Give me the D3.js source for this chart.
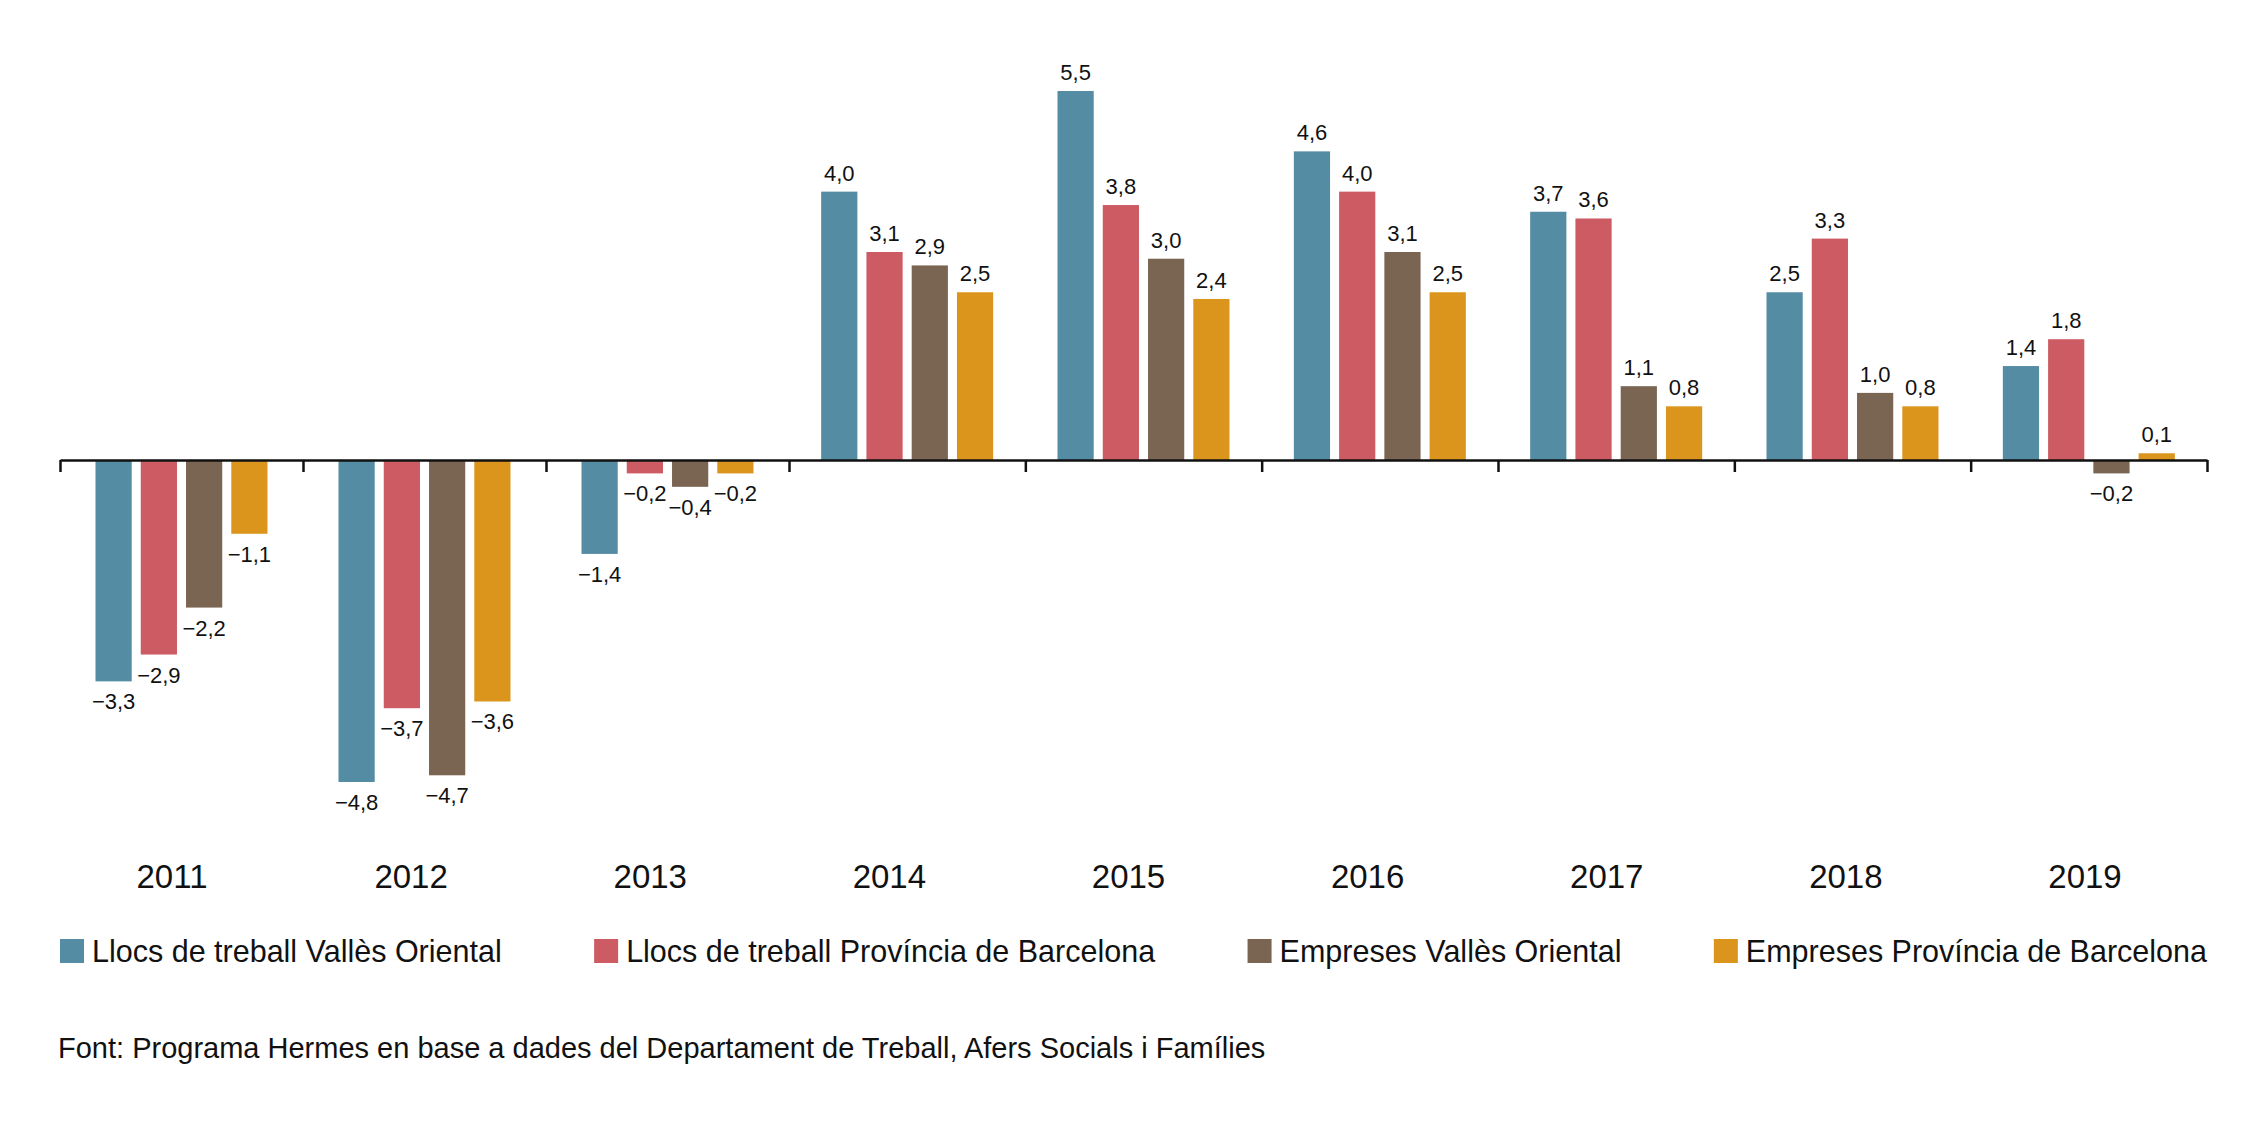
<!DOCTYPE html>
<html>
<head>
<meta charset="utf-8">
<script src="https://cdn.jsdelivr.net/npm/d3@7"></script>
<style>
  html, body { margin: 0; padding: 0; background: #fff; }
  svg { display: block; font-family: "Liberation Sans", Arial, Helvetica, sans-serif; }
</style>
</head>
<body>
<script>
// Data
const years = ['2011', '2012', '2013', '2014', '2015', '2016', '2017', '2018', '2019'];
const seriesNames = [
    'Llocs de treball Vallès Oriental',
    'Llocs de treball Província de Barcelona',
    'Empreses Vallès Oriental',
    'Empreses Província de Barcelona'
];
const llocsValles = [-3.3, -4.8, -1.4, 4.0, 5.5, 4.6, 3.7, 2.5, 1.4];
const llocsBarcelona = [-2.9, -3.7, -0.2, 3.1, 3.8, 4.0, 3.6, 3.3, 1.8];
const empresesValles = [-2.2, -4.7, -0.4, 2.9, 3.0, 3.1, 1.1, 1.0, -0.2];
const empresesBarcelona = [-1.1, -3.6, -0.2, 2.5, 2.4, 2.5, 0.8, 0.8, 0.1];
const seriesColors = ['#538ca3', '#cd5b63', '#7a6553', '#db951c'];
const sourceText = 'Font: Programa Hermes en base a dades del Departament de Treball, Afers Socials i Famílies';

const width = 2268;
const height = 1122;
const left = 60, right = 2207;

const seriesValues = [llocsValles, llocsBarcelona, empresesValles, empresesBarcelona];

const locale = d3.formatLocale({ decimal: ',', thousands: '.', grouping: [3], currency: ['', '€'], minus: '\u2212' });
const fmt = locale.format('.1f');

const svg = d3.select('body').append('svg')
    .attr('width', width)
    .attr('height', height);

// Group boundaries: the first three groups are drawn a bit wider in the original
const edge = d3.scaleLinear().domain([0, 3, years.length]).range([left, 789, right]);
const x1 = d3.scaleBand().domain(d3.range(seriesNames.length))
    .range([-86, 86]).paddingInner(0.2);
const y = d3.scaleLinear().domain([-4.8, 5.5]).range([782, 91]);
// year labels sit on their own even spacing, not exactly under the groups
const xLabel = d3.scalePoint().domain(years).range([172, 2085]);

// Bars
const groups = svg.selectAll('g.year')
    .data(years)
    .enter().append('g')
    .attr('class', 'year')
    .attr('transform', (d, i) => `translate(${edge(i + 0.5)},0)`);

const cells = groups.selectAll('g.cell')
    .data((d, i) => seriesValues.map((vals, s) => ({ s, v: vals[i] })))
    .enter().append('g');

cells.append('rect')
    .attr('x', d => x1(d.s))
    .attr('width', x1.bandwidth())
    .attr('y', d => y(Math.max(0, d.v)))
    .attr('height', d => Math.abs(y(d.v) - y(0)))
    .attr('fill', d => seriesColors[d.s]);

cells.append('text')
    .attr('x', d => x1(d.s) + x1.bandwidth() / 2)
    .attr('y', d => d.v >= 0 ? y(d.v) - 11 : y(d.v) + 28)
    .attr('text-anchor', 'middle')
    .style('font-size', '22px')
    .attr('fill', '#111')
    .text(d => fmt(d.v));

// Zero axis with ticks at group boundaries
const axis = svg.append('g')
    .attr('transform', `translate(0,${y(0)})`)
    .call(d3.axisBottom(edge).tickValues(d3.range(years.length + 1))
        .tickSize(12).tickSizeOuter(0).tickFormat(''));
axis.select('.domain').attr('stroke', '#111').attr('stroke-width', 2.5);
axis.selectAll('.tick line').attr('stroke', '#111').attr('stroke-width', 2.5);

// Year labels
svg.selectAll('text.yearLabel')
    .data(years)
    .enter().append('text')
    .attr('class', 'yearLabel')
    .attr('x', d => xLabel(d))
    .attr('y', 888)
    .attr('text-anchor', 'middle')
    .style('font-size', '33px')
    .attr('fill', '#111')
    .text(d => d);

// Legend, spread over the full plot width
const legend = svg.append('g');
const items = legend.selectAll('g')
    .data(seriesNames)
    .enter().append('g');
items.append('rect')
    .attr('y', 939)
    .attr('width', 24)
    .attr('height', 24)
    .attr('fill', (d, i) => seriesColors[i]);
items.append('text')
    .attr('x', 32)
    .attr('y', 962)
    .style('font-size', '30.5px')
    .attr('fill', '#111')
    .text(d => d);

const itemWidths = [];
items.each(function() { itemWidths.push(this.getBBox().width); });
const gap = (right - left - d3.sum(itemWidths)) / (seriesNames.length - 1);
let cursor = left;
items.attr('transform', (d, i) => {
    const t = `translate(${cursor},0)`;
    cursor += itemWidths[i] + gap;
    return t;
});

// Source
svg.append('text')
    .attr('x', left - 2)
    .attr('y', 1058)
    .style('font-size', '29px')
    .attr('fill', '#111')
    .text(sourceText);
</script>
</body>
</html>
